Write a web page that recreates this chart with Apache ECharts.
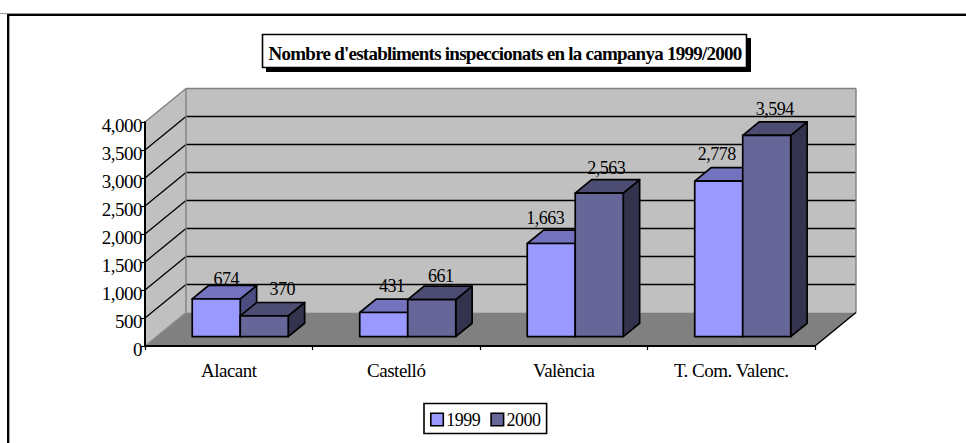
<!DOCTYPE html>
<html>
<head>
<meta charset="utf-8">
<style>
html,body{margin:0;padding:0;background:#fff}
#chart{width:966px;height:443px}
#chart text{letter-spacing:-0.5px}
#chart text[style*="bold"]{letter-spacing:-0.75px}
</style>
<script src="https://cdn.jsdelivr.net/npm/echarts@6/dist/echarts.min.js"></script>
</head>
<body>
<div id="chart"></div>
<script>
const categories = ['Alacant', 'Castelló', 'València', 'T. Com. Valenc.'];
const values1999 = [674, 431, 1663, 2778];
const values2000 = [370, 661, 2563, 3594];
const valueTicks = [500, 1000, 1500, 2000, 2500, 3000, 3500];
const titleText = "Nombre d'establiments inspeccionats en la campanya 1999/2000";

const FONT = '"Liberation Serif","Times New Roman",serif';
const depth = {dx: 41, dy: 33.5};
const barFront = 0.28, barDepth = 0.4, barShare = 48 / 167.5;
const palette = {
  '1999': {front: '#9999FF', top: '#7373BF', side: '#4C4C80'},
  '2000': {front: '#666699', top: '#4D4D73', side: '#33334D'}
};
// small nudges of the value labels, in pixels, relative to the bar's front-top centre
const labelNudge = {
  '1999': [[10, -20], [8, -26], [-6, -25], [-2, -27]],
  '2000': [[18, -27], [9, -24], [7, -25], [8, -26]]
};

const fmt = v => Number(v).toLocaleString('en-US');
const poly = (points, fill, stroke, lw) => ({
  type: 'polygon', shape: {points},
  style: {fill, stroke: stroke || null, lineWidth: lw || 0, lineJoin: 'round'}
});
const line = (x1, y1, x2, y2, stroke, lw) => ({
  type: 'line', shape: {x1, y1, x2, y2}, style: {stroke, lineWidth: lw}
});

function renderWalls(params, api) {
  const x0 = params.coordSys.x, w = params.coordSys.width;
  const y0 = api.coord([0, 0])[1], yT = api.coord([0, 4000])[1];
  const bx = x0 + depth.dx, bw = x0 + w + depth.dx, dy = depth.dy;
  const kids = [
    poly([[bx, yT - dy], [bw, yT - dy], [bw, y0 - dy], [bx, y0 - dy]], '#C0C0C0'),
    poly([[x0, yT], [bx, yT - dy], [bx, y0 - dy], [x0, y0]], '#C0C0C0'),
    poly([[x0, y0], [bx, y0 - dy], [bw, y0 - dy], [x0 + w, y0]], '#808080')
  ];
  valueTicks.forEach(v => {
    const y = api.coord([0, v])[1];
    kids.push(line(x0, y, bx, y - dy, '#000', 1.3));
    kids.push(line(bx, y - dy, bw, y - dy, '#000', 1.3));
  });
  kids.push(line(x0, yT, bx, yT - dy, '#808080', 1.4));
  kids.push(line(bx, yT - dy, bw, yT - dy, '#808080', 1.4));
  kids.push(line(bx, yT - dy, bx, y0 - dy, '#808080', 1.4));
  kids.push(line(bw, yT - dy, bw, y0 - dy, '#808080', 1.4));
  kids.push(line(x0, y0, bx, y0 - dy, '#8c8c8c', 1.2));
  kids.push(line(x0 + w, y0, bw, y0 - dy, '#000', 1.5));
  return {type: 'group', children: kids};
}

function barRenderer(year, sign) {
  const c = palette[year];
  return function (params, api) {
    const idx = api.value(0), val = api.value(1);
    const band = api.size([1, 0])[0], bw = band * barShare;
    const base = api.coord([idx, 0]), top = api.coord([idx, val]);
    const sx = depth.dx * barFront, sy = depth.dy * barFront;
    const ddx = depth.dx * barDepth, ddy = depth.dy * barDepth;
    const cx = base[0] + sx;
    const l = sign < 0 ? cx - bw : cx, r = l + bw;
    const yb = base[1] - sy, yt = top[1] - sy;
    const n = labelNudge[year][params.dataIndex];
    return {type: 'group', children: [
      poly([[r, yt], [r + ddx, yt - ddy], [r + ddx, yb - ddy], [r, yb]], c.side, '#000', 1.7),
      poly([[l, yt], [l + ddx, yt - ddy], [r + ddx, yt - ddy], [r, yt]], c.top, '#000', 1.7),
      poly([[l, yt], [r, yt], [r, yb], [l, yb]], c.front, '#000', 1.7),
      {type: 'text', z2: 50, style: {
        text: fmt(val), x: (l + r) / 2 + n[0], y: yt + n[1],
        align: 'center', verticalAlign: 'middle',
        font: '18px ' + FONT, fill: '#000'
      }}
    ]};
  };
}

const chart = echarts.init(document.getElementById('chart'), null, {renderer: 'svg'});
chart.setOption({
  backgroundColor: '#fff',
  animation: false,
  textStyle: {fontFamily: FONT},
  title: {
    text: titleText, left: 505, top: 43, textAlign: 'center', padding: 0,
    textStyle: {fontFamily: FONT, fontWeight: 'bold', fontSize: 19, color: '#000', lineHeight: 20}
  },
  legend: {
    data: ['1999', '2000'], left: 424, top: 403.5, padding: [7, 4, 5, 6],
    itemWidth: 12.5, itemHeight: 12.5, itemGap: 8, icon: 'rect',
    borderColor: '#000', borderWidth: 1.6, backgroundColor: '#fff',
    itemStyle: {borderColor: '#000', borderWidth: 1.6},
    textStyle: {fontFamily: FONT, fontSize: 18, color: '#000', padding: [8, 0, 0, -2]}
  },
  grid: {left: 145, right: 151, top: 122, bottom: 97, containLabel: false},
  xAxis: {
    type: 'category', data: categories, z: 10,
    axisLine: {show: true, lineStyle: {color: '#000', width: 2}},
    axisTick: {show: true, alignWithLabel: false, length: 4, lineStyle: {color: '#000', width: 1.2}},
    axisLabel: {color: '#000', fontFamily: FONT, fontSize: 19, margin: 15, interval: 0},
    splitLine: {show: false}
  },
  yAxis: {
    type: 'value', min: 0, max: 4000, interval: 500, z: 10,
    axisLine: {show: true, lineStyle: {color: '#000', width: 2}},
    axisTick: {show: true, length: 4, lineStyle: {color: '#000', width: 1.2}},
    axisLabel: {color: '#000', fontFamily: FONT, fontSize: 19, margin: 3, verticalAlign: 'top', lineHeight: 7, formatter: fmt},
    splitLine: {show: false}
  },
  series: [
    {type: 'custom', name: 'walls', z: 1, clip: false, silent: true,
     renderItem: renderWalls, data: [[0, 0]], encode: {x: 0, y: 1}},
    {type: 'custom', name: '1999', z: 3, clip: false, renderItem: barRenderer('1999', -1),
     itemStyle: {color: palette['1999'].front}, encode: {x: 0, y: 1},
     data: values1999.map((v, i) => [i, v])},
    {type: 'custom', name: '2000', z: 4, clip: false, renderItem: barRenderer('2000', 1),
     itemStyle: {color: palette['2000'].front}, encode: {x: 0, y: 1},
     data: values2000.map((v, i) => [i, v])}
  ],
  graphic: {elements: [
    {type: 'rect', silent: true, z: -10, shape: {x: -20, y: 13.5, width: 1100, height: 500},
     style: {fill: '#fff', stroke: '#999', lineWidth: 1}},
    {type: 'rect', silent: true, z: -9, shape: {x: 8, y: 15, width: 1100, height: 500},
     style: {fill: '#fff', stroke: '#000', lineWidth: 2}},
    {type: 'line', silent: true, z: -8, shape: {x1: 9.5, y1: 16, x2: 9.5, y2: 443},
     style: {stroke: '#aaa', lineWidth: 1}},
    {type: 'rect', silent: true, z: -8, shape: {x: 266, y: 38, width: 485, height: 34},
     style: {fill: '#000'}},
    {type: 'rect', silent: true, z: -7, shape: {x: 262.5, y: 34.5, width: 484, height: 33},
     style: {fill: '#fff', stroke: '#000', lineWidth: 1.6}}
  ]}
});
</script>
</body>
</html>
